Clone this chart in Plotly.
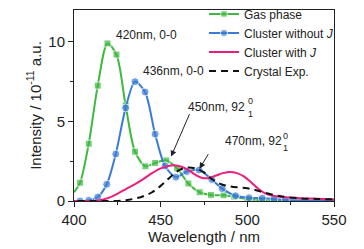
import plotly.graph_objects as go

# ---- data ----
gas_x = [400, 403.5, 408.5, 413.7, 419.3, 424.5, 429.8, 435.2, 441.2, 446.8, 453.3, 459.5, 466.0, 472.5, 479.0, 486.3, 492.5, 500.0, 507.0, 514.0, 550]
gas_y = [0.55, 1.15, 3.6, 7.25, 9.9, 9.2, 6.0, 3.1, 2.18, 2.39, 2.55, 2.05, 1.1, 0.55, 0.38, 0.36, 0.27, 0.12, 0.06, 0.03, 0.0]

clu_x = [400, 403.5, 408.5, 413.7, 418.9, 424.1, 429.8, 435.2, 441.0, 446.8, 452.5, 458.8, 465.0, 472.2, 479.5, 485.5, 493.2, 501.0, 508.6, 515.4, 522.0, 550]
clu_y = [0.0, 0.0, 0.04, 0.25, 1.05, 2.95, 5.85, 7.5, 6.85, 4.2, 2.2, 1.5, 1.85, 1.95, 1.35, 0.78, 0.33, 0.2, 0.18, 0.13, 0.07, 0.03]

j_x = [400, 410, 415, 420, 425, 430, 435, 440, 445, 450, 455, 458, 462, 466, 470, 474, 478, 482, 486, 490, 494, 498, 502, 506, 510, 515, 520, 530, 540, 550]
j_y = [0.0, 0.0, 0.05, 0.2, 0.45, 0.75, 1.05, 1.38, 1.75, 2.05, 2.22, 2.25, 2.15, 1.95, 1.65, 1.45, 1.45, 1.6, 1.75, 1.82, 1.75, 1.55, 1.2, 0.8, 0.5, 0.33, 0.25, 0.18, 0.14, 0.1]

exp_x = [402, 420, 430, 435, 440, 445, 450, 455, 460, 465, 470, 475, 480, 485, 490, 495, 500, 505, 510, 515, 520, 530, 540, 550]
exp_y = [0.0, 0.0, 0.05, 0.15, 0.3, 0.55, 0.95, 1.45, 1.9, 2.1, 2.05, 1.8, 1.35, 1.05, 0.92, 0.85, 0.8, 0.68, 0.52, 0.38, 0.28, 0.17, 0.13, 0.1]

names = ["Gas phase", "Cluster without <i>J</i>", "Cluster with <i>J</i>", "Crystal Exp."]
x_ticks = [400, 450, 500, 550]
y_ticks = [0, 5, 10]

GREEN = "#3DB93F"
BLUE = "#3A7BD5"
PINK = "#EC1E7E"
TXT = "#222222"
FONT = "Liberation Sans, Arial, sans-serif"


def sizes(n, s):
    return [0] + [s] * (n - 2) + [0]


fig = go.Figure()
fig.add_trace(go.Scatter(x=gas_x, y=gas_y, name=names[0], mode="lines+markers",
                         line=dict(color=GREEN, width=2, shape="spline", smoothing=0.8),
                         marker=dict(symbol="square", size=sizes(len(gas_x), 7), color=GREEN)))
fig.add_trace(go.Scatter(x=clu_x, y=clu_y, name=names[1], mode="lines+markers",
                         line=dict(color=BLUE, width=2, shape="spline", smoothing=0.8),
                         marker=dict(symbol="circle", size=sizes(len(clu_x), 8), color=BLUE)))
fig.add_trace(go.Scatter(x=j_x, y=j_y, name=names[2], mode="lines",
                         line=dict(color=PINK, width=2, shape="spline")))
fig.add_trace(go.Scatter(x=exp_x, y=exp_y, name=names[3], mode="lines",
                         line=dict(color="#111111", width=2, dash="7px,5px", shape="spline")))

ann = [
    dict(x=423.7, y=10.46, text="420nm, 0-0", xanchor="left"),
    dict(x=439.1, y=8.19, text="436nm, 0-0", xanchor="left"),
    dict(x=465.3, y=5.93, text="450nm, 92", xanchor="left"),
    dict(x=486.5, y=3.75, text="470nm, 92", xanchor="left"),
]
annotations = []
for a in ann:
    annotations.append(dict(xref="x", yref="y", showarrow=False, yanchor="middle", borderpad=0,
                            font=dict(size=12, color=TXT, family=FONT), **a))
for (sx, sy, t) in [(502.0, 6.3, "0"), (502.0, 5.45, "1"), (522.2, 4.1, "0"), (522.2, 3.3, "1")]:
    annotations.append(dict(xref="x", yref="y", x=sx, y=sy, text=t, showarrow=False,
                            xanchor="center", yanchor="middle", borderpad=0,
                            font=dict(size=9, color=TXT, family=FONT)))
for (hx, hy, tx, ty) in [(456.0, 2.79, 467.0, 5.55), (472.4, 2.03, 478.0, 3.04)]:
    annotations.append(dict(xref="x", yref="y", x=hx, y=hy, ax=tx, ay=ty,
                            axref="x", ayref="y", text="", showarrow=True,
                            arrowhead=2, arrowsize=1.2, arrowwidth=1, arrowcolor=TXT))

# page body has an 8px default margin, so the figure is 8px smaller and margins are offset
fig.update_layout(
    width=356, height=241,
    margin=dict(l=66, r=30, t=2, b=48, autoexpand=False),
    paper_bgcolor="white", plot_bgcolor="white",
    font=dict(family=FONT, color=TXT, size=13),
    showlegend=True,
    legend=dict(x=0.5, y=0.83, xanchor="left", yanchor="middle", bgcolor="rgba(0,0,0,0)",
                font=dict(size=12, color=TXT, family=FONT), itemwidth=30,
                tracegroupgap=0),
    annotations=annotations,
)
fig.update_xaxes(range=[400, 550], tickvals=x_ticks, ticks="outside", ticklen=5, tickwidth=1,
                 tickcolor=TXT, showline=True, linecolor=TXT, linewidth=1, mirror=True,
                 showgrid=False, zeroline=False, tickfont=dict(size=15), automargin=False,
                 minor=dict(dtick=25, ticks="outside", ticklen=3, tickcolor=TXT),
                 title=dict(text="Wavelength / nm", font=dict(size=15), standoff=2))
fig.update_yaxes(range=[0, 12], tickvals=y_ticks, ticks="outside", ticklen=5, tickwidth=1,
                 tickcolor=TXT, showline=True, linecolor=TXT, linewidth=1, mirror=True,
                 showgrid=False, zeroline=False, tickfont=dict(size=15), automargin=False,
                 minor=dict(dtick=2.5, ticks="outside", ticklen=3, tickcolor=TXT),
                 title=dict(text="Intensity / 10<sup>-11</sup> a.u.", font=dict(size=15), standoff=3))

fig.write_html("out.html")
